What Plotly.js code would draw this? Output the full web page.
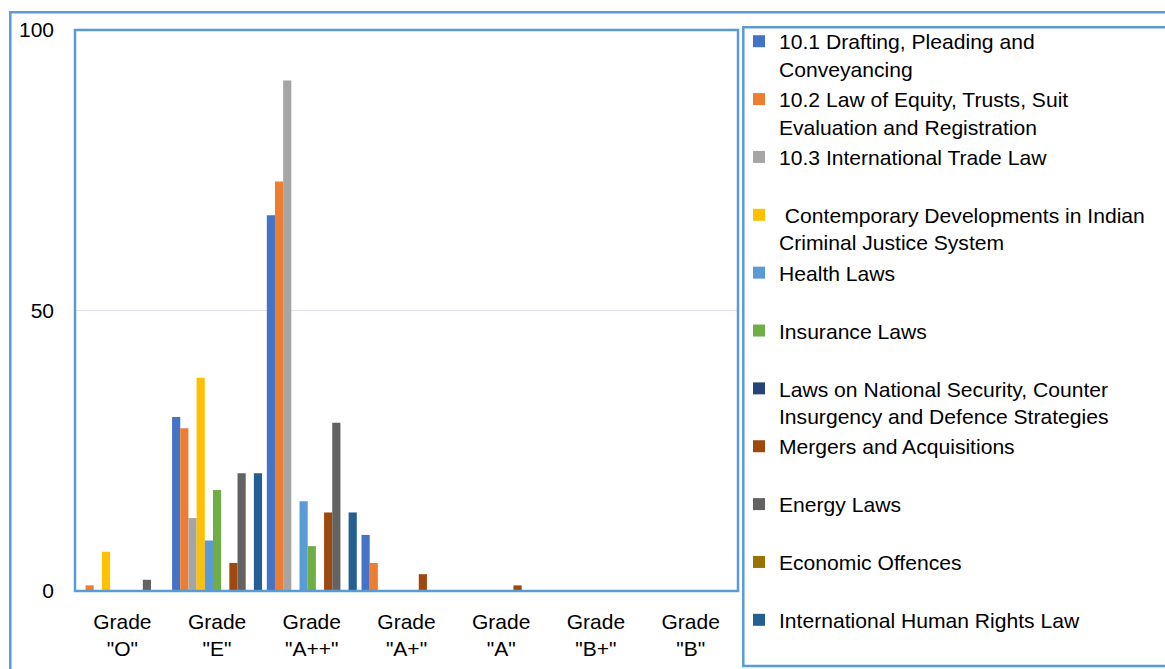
<!DOCTYPE html>
<html>
<head>
<meta charset="utf-8">
<script src="https://cdn.plot.ly/plotly-3.0.1.min.js"></script>
<style>
html,body{margin:0;padding:0;background:#fff;}
#chart{width:1165px;height:669px;}
</style>
</head>
<body>
<div id="chart"></div>
<script>
// ---- data ----
const categories = ['O', 'E', 'A++', 'A+', 'A', 'B+', 'B'];
const tickLabels = ['Grade<br>"O"', 'Grade<br>"E"', 'Grade<br>"A++"', 'Grade<br>"A+"', 'Grade<br>"A"', 'Grade<br>"B+"', 'Grade<br>"B"'];

const seriesNames = [
  '10.1 Drafting, Pleading and<br>Conveyancing',
  '10.2 Law of Equity, Trusts, Suit<br>Evaluation and Registration',
  '10.3 International Trade Law<br>&nbsp;',
  '&nbsp;Contemporary Developments in Indian<br>Criminal Justice System',
  'Health Laws<br>&nbsp;',
  'Insurance Laws<br>&nbsp;',
  'Laws on National Security, Counter<br>Insurgency and Defence Strategies',
  'Mergers and Acquisitions<br>&nbsp;',
  'Energy Laws<br>&nbsp;',
  'Economic Offences<br>&nbsp;',
  'International Human Rights Law<br>&nbsp;'
];

const drafting        = [0, 31, 67, 10, 0, 0, 0];
const lawOfEquity     = [1, 29, 73, 5, 0, 0, 0];
const intlTrade       = [0, 13, 91, 0, 0, 0, 0];
const contemporary    = [7, 38, 0, 0, 0, 0, 0];
const healthLaws      = [0, 9, 16, 0, 0, 0, 0];
const insuranceLaws   = [0, 18, 8, 0, 0, 0, 0];
const nationalSecurity= [0, 0, 0, 0, 0, 0, 0];
const mergers         = [0, 5, 14, 3, 1, 0, 0];
const energyLaws      = [2, 21, 30, 0, 0, 0, 0];
const economicOff     = [0, 0, 0, 0, 0, 0, 0];
const humanRights     = [0, 21, 14, 0, 0, 0, 0];

const seriesValues = [drafting, lawOfEquity, intlTrade, contemporary, healthLaws, insuranceLaws,
                      nationalSecurity, mergers, energyLaws, economicOff, humanRights];

const colors = ['#4472C4', '#ED7D31', '#A5A5A5', '#FFC000', '#5B9BD5', '#70AD47',
                '#264478', '#9E480E', '#636363', '#997300', '#255E91'];

// ---- plot ----
const FONT = '"Liberation Sans", Arial, sans-serif';
const traces = seriesValues.map((vals, i) => ({
  type: 'bar',
  name: seriesNames[i],
  x: categories,
  y: vals,
  marker: {color: colors[i], line: {width: 0}},
  hoverinfo: 'skip'
}));

// pixel -> paper helpers for decorative frames
const W = 1165, H = 669;
const L = 75, R = 738, T = 30, B = 591;
const px = v => (v - L) / (R - L);
const py = v => (B - v) / (B - T);

const frame = '#5B9BD5';
const layout = {
  width: W, height: H,
  margin: {l: L, r: W - R, t: T, b: H - B, pad: 0, autoexpand: false},
  paper_bgcolor: '#ffffff',
  plot_bgcolor: '#ffffff',
  font: {family: FONT, size: 21, color: '#000000'},
  barmode: 'group',
  bargap: 0.05,
  bargroupgap: 0,
  showlegend: true,
  legend: {
    xref: 'container', yref: 'container',
    x: 739 / W, xanchor: 'left',
    y: 1 - 21 / H, yanchor: 'top',
    maxheight: 1,
    font: {family: FONT, size: 21.1, color: '#000000'},
    valign: 'top',
    traceorder: 'normal',
    bgcolor: 'rgba(0,0,0,0)',
    borderwidth: 0,
    itemclick: false
  },
  xaxis: {
    type: 'category',
    categoryorder: 'array',
    categoryarray: categories,
    tickmode: 'array',
    tickvals: categories,
    ticktext: tickLabels,
    showgrid: false,
    zeroline: false,
    showline: false,
    ticks: '',
    ticklabelstandoff: 16,
    tickfont: {family: FONT, size: 21, color: '#000000'}
  },
  yaxis: {
    range: [0, 100],
    tickmode: 'array',
    tickvals: [0, 50, 100],
    ticktext: ['0', '50', '100'],
    showgrid: true,
    gridcolor: '#DCE1EA',
    gridwidth: 1.5,
    zeroline: false,
    showline: false,
    ticks: '',
    ticklabelstandoff: 20,
    tickfont: {family: FONT, size: 21, color: '#000000'}
  },
  shapes: [
    // outer chart frame
    {type: 'rect', xref: 'paper', yref: 'paper', x0: px(10.3), x1: px(1185), y0: py(690), y1: py(12.2),
     line: {color: frame, width: 2.5}, fillcolor: 'rgba(0,0,0,0)', layer: 'above'},
    // plot area frame
    {type: 'rect', xref: 'paper', yref: 'paper', x0: 0, x1: 1, y0: 0, y1: 1,
     line: {color: frame, width: 2.5}, fillcolor: 'rgba(0,0,0,0)', layer: 'above'},
    // legend frame
    {type: 'rect', xref: 'paper', yref: 'paper', x0: px(743.3), x1: px(1185), y0: py(666), y1: py(27.3),
     line: {color: frame, width: 2.5}, fillcolor: 'rgba(0,0,0,0)', layer: 'above'}
  ]
};

Plotly.newPlot('chart', traces, layout, {staticPlot: true, displayModeBar: false});
</script>
</body>
</html>
